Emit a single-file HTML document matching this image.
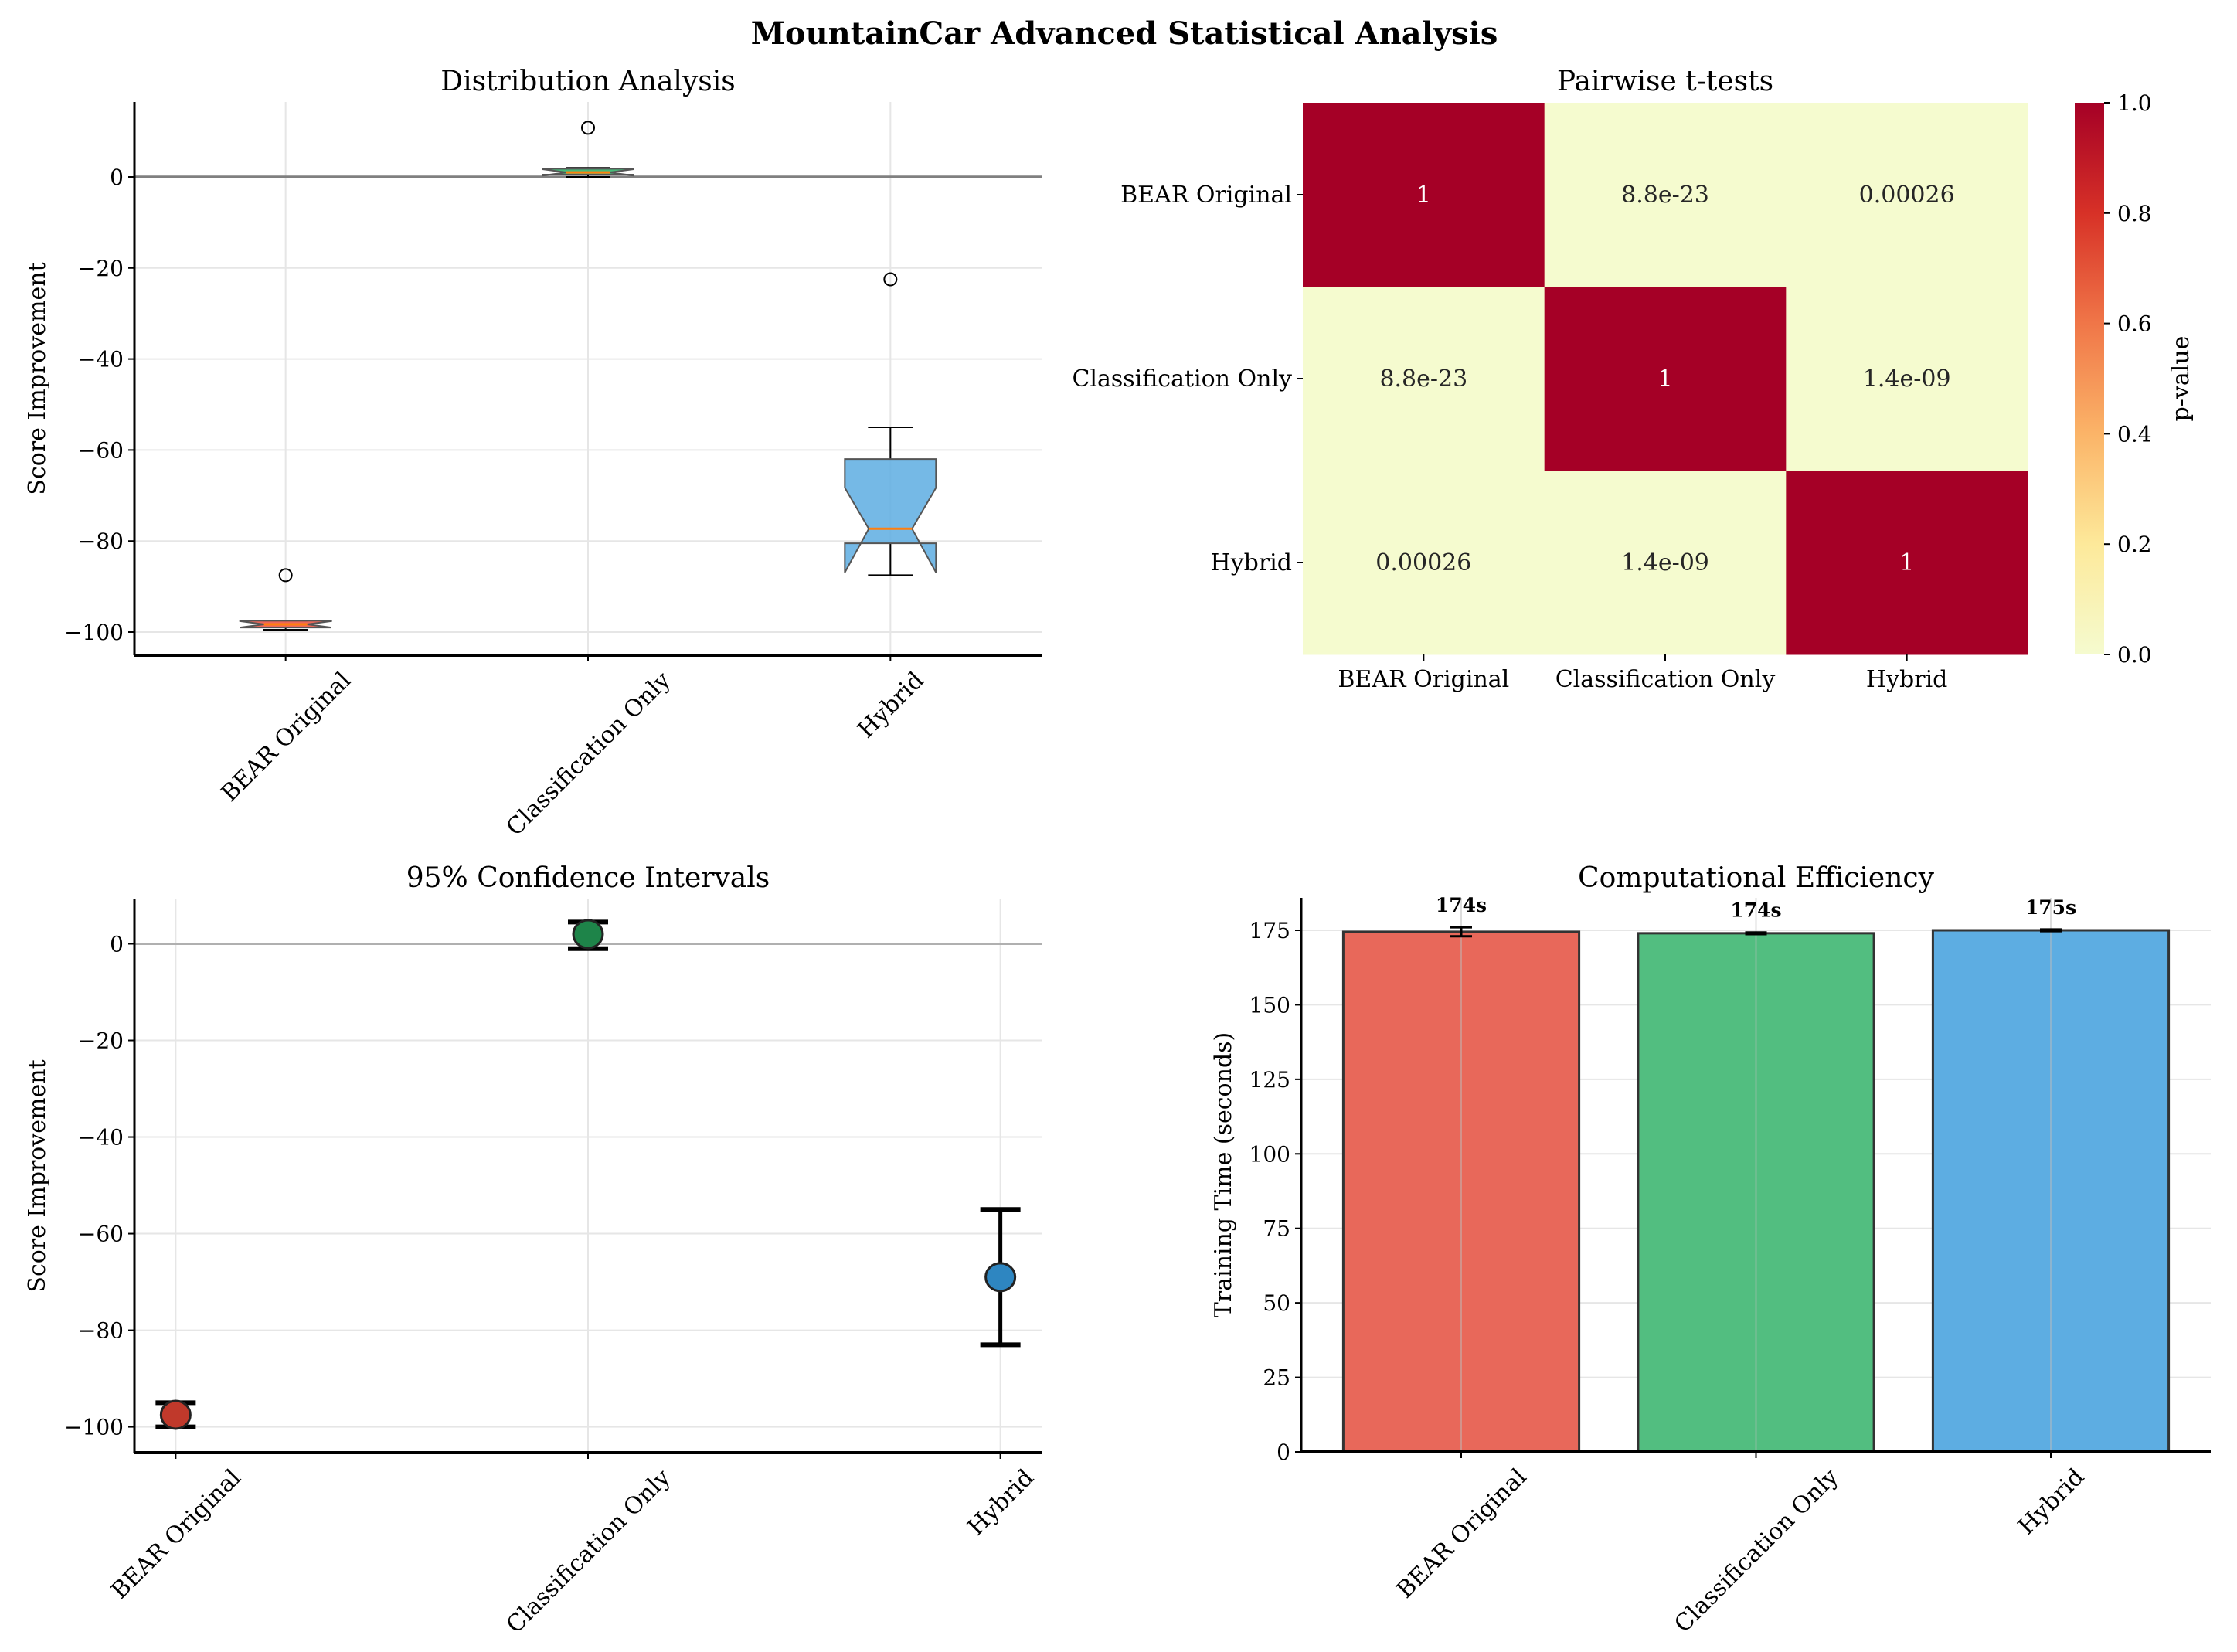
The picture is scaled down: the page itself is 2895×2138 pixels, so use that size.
<!DOCTYPE html>
<html><head><meta charset="utf-8">
<style>
html,body{margin:0;padding:0;background:#fff;}
svg{display:block;font-family:"DejaVu Serif","Liberation Serif",serif;}
</style></head>
<body>
<svg id="fig" width="2895" height="2138" viewBox="0 0 2895 2138" xmlns="http://www.w3.org/2000/svg">
<defs>
<linearGradient id="cmap" x1="0" y1="1" x2="0" y2="0">
<stop offset="0" stop-color="#f5fbcf"/><stop offset="0.2" stop-color="#fde99a"/>
<stop offset="0.4" stop-color="#fbb468"/><stop offset="0.6" stop-color="#f07648"/>
<stop offset="0.8" stop-color="#d73127"/><stop offset="1" stop-color="#a50026"/>
</linearGradient>
</defs>
<text x="1455" y="57" text-anchor="middle" font-size="40" font-weight="bold">MountainCar Advanced Statistical Analysis</text>
<g id="p1"></g>
<g id="p2"></g>
<g id="p3"></g>
<g id="p4"></g>
</svg>
<script>
const categories = ["BEAR Original","Classification Only","Hybrid"];
// box plot stats
const boxQ1 = [-99, 0.5, -80.5];
const boxQ3 = [-97.5, 1.8, -62];
const boxMed = [-98.3, 1, -77.3];
const boxLo = [-99.5, 0, -87.5];
const boxHi = [-97.5, 2, -55];
const boxNotchLo = [-99, 0.3, -86.9];
const boxNotchHi = [-97.6, 1.7, -68.3];
const boxOutliers = [-87.5, 10.8, -22.5];
const boxColors = ["#e74c3c","#27ae60","#5dade2"];
// p-value matrix
const pvals = [[1, 8.8e-23, 0.00026],[8.8e-23, 1, 1.4e-9],[0.00026, 1.4e-9, 1]];
const pLabels = [["1","8.8e-23","0.00026"],["8.8e-23","1","1.4e-09"],["0.00026","1.4e-09","1"]];
// CI
const ciMean = [-97.5, 2, -69];
const ciLow = [-100, -1, -83];
const ciHigh = [-95, 4.5, -55];
const ciColors = ["#c0392b","#1e8449","#2e86c1"];
// efficiency
const timeVals = [174.5, 174, 175];
const timeErr = [1.5, 0.3, 0.3];
const timeLabels = ["174s","174s","175s"];
const barColors = ["#e8685a","#52be80","#5dade2"];
const scoreTicks = [0,-20,-40,-60,-80,-100];
const timeTicks = [0,25,50,75,100,125,150,175];
const cbTicks = [0,0.2,0.4,0.6,0.8,1.0];

const NS="http://www.w3.org/2000/svg";
const TF=28, XF=30, TITLEF=36, LABF=30;
function mk(parent, tag, attrs, text){
  const e=document.createElementNS(NS,tag);
  for(const k in attrs) e.setAttribute(k,attrs[k]);
  if(text!==undefined) e.textContent=text;
  parent.appendChild(e); return e;
}
const lin=(d0,d1,r0,r1)=>v=>r0+(v-d0)*(r1-r0)/(d1-d0);
const fmt=v=>v<0?"\u2212"+Math.abs(v):String(v);
function rotLabel(g,cx,B,c){
  const tl=mk(g,'text',{x:cx,y:0,'text-anchor':'middle','font-size':XF},c);
  
  
  const L=tl.getComputedTextLength();
  const ext=(L+XF)*0.7071;
  const cy=B+16+ext/2;
  tl.setAttribute('y',cy+XF*0.35);
  tl.setAttribute('transform',`rotate(-45 ${cx} ${cy})`);
}

// ---------- Panel 1 ----------
(function(){
  const g=document.getElementById('p1');
  const L=174,R=1348,T=132,B=848;
  const x=lin(0.5,3.5,L,R), y=lin(0,-100,229,818);
  scoreTicks.forEach(t=>{
    const gl=mk(g,'line',{x1:L,x2:R,y1:y(t),y2:y(t),stroke:'#e6e6e6','stroke-width':2});
    
    
    mk(g,'line',{x1:L-8,x2:L,y1:y(t),y2:y(t),stroke:'#000','stroke-width':2});
    const tl=mk(g,'text',{x:L-14,y:y(t)+10,'text-anchor':'end','font-size':TF},fmt(t));
    
    
  });
  categories.forEach((c,i)=>{
    const cx=x(i+1);
    mk(g,'line',{x1:cx,x2:cx,y1:T,y2:B,stroke:'#e6e6e6','stroke-width':2});
  });
  const zl=mk(g,'line',{x1:L,x2:R,y1:y(0),y2:y(0),stroke:'#808080','stroke-width':3.5});
  
  
  categories.forEach((c,i)=>{
    const cx=x(i+1), hw=59, nw=28, cw=29;
    const bx=mk(g,'g',{});
    
    
    mk(bx,'line',{x1:cx,x2:cx,y1:y(boxQ3[i]),y2:y(boxHi[i]),stroke:'#000','stroke-width':2});
    mk(bx,'line',{x1:cx,x2:cx,y1:y(boxQ1[i]),y2:y(boxLo[i]),stroke:'#000','stroke-width':2});
    mk(bx,'line',{x1:cx-cw,x2:cx+cw,y1:y(boxHi[i]),y2:y(boxHi[i]),stroke:'#000','stroke-width':2});
    mk(bx,'line',{x1:cx-cw,x2:cx+cw,y1:y(boxLo[i]),y2:y(boxLo[i]),stroke:'#000','stroke-width':2});
    const pts=[[cx-hw,y(boxQ3[i])],[cx+hw,y(boxQ3[i])],[cx+hw,y(boxNotchHi[i])],[cx+nw,y(boxMed[i])],[cx+hw,y(boxNotchLo[i])],[cx+hw,y(boxQ1[i])],
      [cx-hw,y(boxQ1[i])],[cx-hw,y(boxNotchLo[i])],[cx-nw,y(boxMed[i])],[cx-hw,y(boxNotchHi[i])]];
    mk(bx,'polygon',{points:pts.map(p=>p.join(',')).join(' '),fill:boxColors[i],'fill-opacity':0.85,stroke:'#555','stroke-width':2});
    mk(bx,'line',{x1:cx-nw,x2:cx+nw,y1:y(boxMed[i]),y2:y(boxMed[i]),stroke:'#ff7f0e','stroke-width':3});
    const o=mk(g,'circle',{cx:cx,cy:y(boxOutliers[i]),r:8,fill:'none',stroke:'#000','stroke-width':2});
    
    
    mk(g,'line',{x1:cx,x2:cx,y1:B,y2:B+8,stroke:'#000','stroke-width':2});
    rotLabel(g,cx,B,c);
  });
  mk(g,'line',{x1:L,x2:L,y1:T,y2:B,stroke:'#000','stroke-width':3});
  mk(g,'line',{x1:L,x2:R,y1:B,y2:B,stroke:'#000','stroke-width':4});
  const t=mk(g,'text',{x:(L+R)/2,y:117,'text-anchor':'middle','font-size':TITLEF},'Distribution Analysis');
  
  
  const yl=mk(g,'text',{x:58,y:(T+B)/2,'text-anchor':'middle','font-size':LABF,transform:`rotate(-90 58 ${(T+B)/2})`},'Score Improvement');
  
  
})();

// ---------- Panel 2 ----------
(function(){
  const g=document.getElementById('p2');
  const L=1686,R=2624,T=133,B=847;
  const cw=(R-L)/3, ch=(B-T)/3;
  const col=v=>v>0.5?'#a50026':'#f5fbcf';
  pvals.forEach((row,r)=>row.forEach((v,c)=>{
    const cell=mk(g,'rect',{x:L+c*cw,y:T+r*ch,width:cw+0.5,height:ch+0.5,fill:col(v)});
    
    
    const tx=mk(g,'text',{x:L+(c+0.5)*cw,y:T+(r+0.5)*ch+10,'text-anchor':'middle','font-size':30,fill:v>0.5?'#fff':'#262626'},pLabels[r][c]);
    
    
  }));
  categories.forEach((c,i)=>{
    const cx=L+(i+0.5)*cw, cy=T+(i+0.5)*ch;
    mk(g,'line',{x1:cx,x2:cx,y1:B,y2:B+8,stroke:'#000','stroke-width':2});
    const xl=mk(g,'text',{x:cx,y:B+42,'text-anchor':'middle','font-size':XF},c);
    
    
    mk(g,'line',{x1:L-8,x2:L,y1:cy,y2:cy,stroke:'#000','stroke-width':2});
    const yl=mk(g,'text',{x:L-14,y:cy+10,'text-anchor':'end','font-size':XF},c);
    
    
  });
  const cb=mk(g,'rect',{x:2685,y:T,width:38,height:B-T,fill:'url(#cmap)'});
  
  
  const cy=lin(0,1,B,T);
  cbTicks.forEach(t=>{
    mk(g,'line',{x1:2723,x2:2731,y1:cy(t),y2:cy(t),stroke:'#000','stroke-width':2});
    const tl=mk(g,'text',{x:2740,y:cy(t)+10,'font-size':TF},t.toFixed(1));
    
    
  });
  const cl=mk(g,'text',{x:2832,y:490,'text-anchor':'middle','font-size':LABF,transform:'rotate(-90 2832 490)'},'p-value');
  
  
  const t=mk(g,'text',{x:(L+R)/2,y:117,'text-anchor':'middle','font-size':TITLEF},'Pairwise t-tests');
  
  
})();

// ---------- Panel 3 ----------
(function(){
  const g=document.getElementById('p3');
  const L=174,R=1348,T=1164,B=1880;
  const x=lin(-0.1,2.1,L,R), y=lin(0,-100,1221.5,1846.6);
  scoreTicks.forEach(t=>{
    mk(g,'line',{x1:L,x2:R,y1:y(t),y2:y(t),stroke:'#e6e6e6','stroke-width':2});
    mk(g,'line',{x1:L-8,x2:L,y1:y(t),y2:y(t),stroke:'#000','stroke-width':2});
    const tl=mk(g,'text',{x:L-14,y:y(t)+10,'text-anchor':'end','font-size':TF},fmt(t));
    
    
  });
  categories.forEach((c,i)=>mk(g,'line',{x1:x(i),x2:x(i),y1:T,y2:B,stroke:'#e6e6e6','stroke-width':2}));
  const zl=mk(g,'line',{x1:L,x2:R,y1:y(0),y2:y(0),stroke:'#b0b0b0','stroke-width':3});
  
  
  categories.forEach((c,i)=>{
    const cx=x(i);
    const eb=mk(g,'g',{});
    
    
    mk(eb,'line',{x1:cx,x2:cx,y1:y(ciLow[i]),y2:y(ciHigh[i]),stroke:'#000','stroke-width':5});
    mk(eb,'line',{x1:cx-26,x2:cx+26,y1:y(ciLow[i]),y2:y(ciLow[i]),stroke:'#000','stroke-width':6});
    mk(eb,'line',{x1:cx-26,x2:cx+26,y1:y(ciHigh[i]),y2:y(ciHigh[i]),stroke:'#000','stroke-width':6});
    const p=mk(g,'ellipse',{cx:cx,cy:y(ciMean[i]),rx:19,ry:18,fill:ciColors[i],stroke:'#222','stroke-width':3});
    
    
    mk(g,'line',{x1:cx,x2:cx,y1:B,y2:B+8,stroke:'#000','stroke-width':2});
    rotLabel(g,cx,B,c);
  });
  mk(g,'line',{x1:L,x2:L,y1:T,y2:B,stroke:'#000','stroke-width':3});
  mk(g,'line',{x1:L,x2:R,y1:B,y2:B,stroke:'#000','stroke-width':4});
  const t=mk(g,'text',{x:(L+R)/2,y:1148,'text-anchor':'middle','font-size':TITLEF},'95% Confidence Intervals');
  
  
  const yl=mk(g,'text',{x:58,y:(T+B)/2,'text-anchor':'middle','font-size':LABF,transform:`rotate(-90 58 ${(T+B)/2})`},'Score Improvement');
  
  
})();

// ---------- Panel 4 ----------
(function(){
  const g=document.getElementById('p4');
  const L=1684,R=2861,T=1162,B=1879;
  const x=lin(0,1,1891,2272.5), y=lin(0,175,1879,1204);
  const bw=(x(1)-x(0))*0.8;
  timeTicks.forEach(t=>{
    mk(g,'line',{x1:L,x2:R,y1:y(t),y2:y(t),stroke:'#e6e6e6','stroke-width':2});
    mk(g,'line',{x1:L-8,x2:L,y1:y(t),y2:y(t),stroke:'#000','stroke-width':2});
    const tl=mk(g,'text',{x:L-14,y:y(t)+10,'text-anchor':'end','font-size':TF},String(t));
    
    
  });
  categories.forEach((c,i)=>{
    const cx=x(i);
    const b=mk(g,'rect',{x:cx-bw/2,y:y(timeVals[i]),width:bw,height:y(0)-y(timeVals[i]),fill:barColors[i],stroke:'#333','stroke-width':3});
    
    
    mk(g,'line',{x1:cx,x2:cx,y1:T,y2:B,stroke:'#bbb','stroke-opacity':0.5,'stroke-width':2});
    mk(g,'line',{x1:cx,x2:cx,y1:y(timeVals[i]-timeErr[i]),y2:y(timeVals[i]+timeErr[i]),stroke:'#000','stroke-width':3});
    mk(g,'line',{x1:cx-14,x2:cx+14,y1:y(timeVals[i]-timeErr[i]),y2:y(timeVals[i]-timeErr[i]),stroke:'#000','stroke-width':3});
    mk(g,'line',{x1:cx-14,x2:cx+14,y1:y(timeVals[i]+timeErr[i]),y2:y(timeVals[i]+timeErr[i]),stroke:'#000','stroke-width':3});
    const vl=mk(g,'text',{x:cx,y:y(timeVals[i]+timeErr[i])-20,'text-anchor':'middle','font-size':25,'font-weight':'bold'},timeLabels[i]);
    
    
    mk(g,'line',{x1:cx,x2:cx,y1:B,y2:B+8,stroke:'#000','stroke-width':2});
    rotLabel(g,cx,B,c);
  });
  mk(g,'line',{x1:L,x2:L,y1:T,y2:B,stroke:'#000','stroke-width':3});
  mk(g,'line',{x1:L,x2:R,y1:B,y2:B,stroke:'#000','stroke-width':4});
  const t=mk(g,'text',{x:(L+R)/2,y:1148,'text-anchor':'middle','font-size':TITLEF},'Computational Efficiency');
  
  
  const yl=mk(g,'text',{x:1593,y:(T+B)/2,'text-anchor':'middle','font-size':LABF,transform:`rotate(-90 1593 ${(T+B)/2})`},'Training Time (seconds)');
  
  
})();
</script>
</body></html>
